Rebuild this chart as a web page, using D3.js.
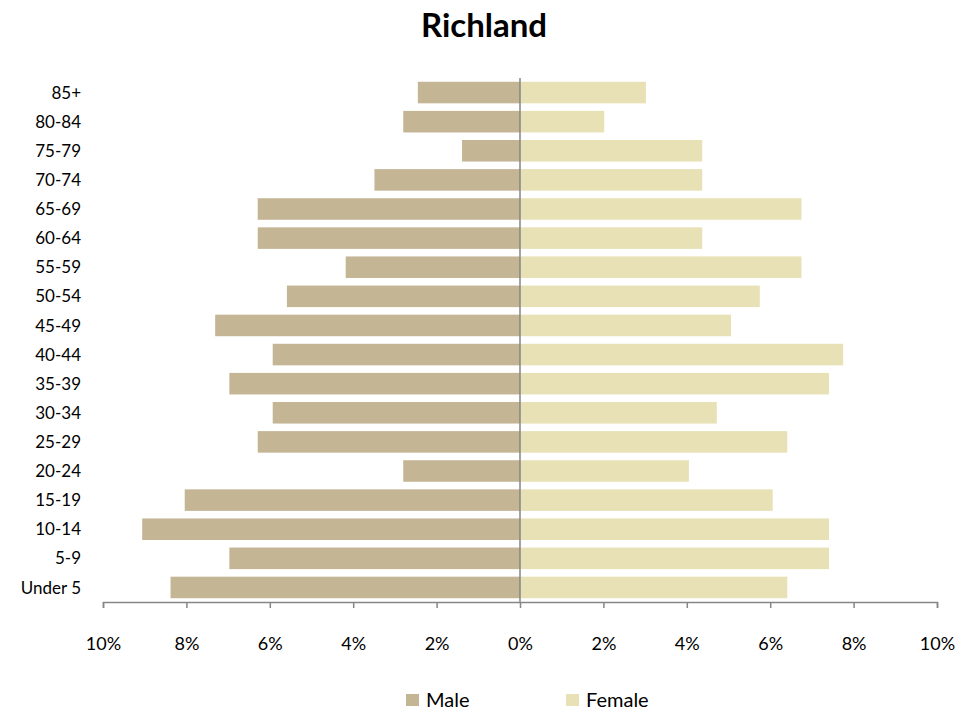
<!DOCTYPE html>
<html>

<head>
    <title>Richland</title>
    <style>
        body {
            margin: 0;
            background: #fff;
        }

        text {
            font-family: Lato, "Open Sans", sans-serif;
            fill: #000;
        }
    </style>
    <script src="https://d3js.org/d3.v7.min.js"></script>
</head>

<body>
    <script>
        // age groups, top to bottom
        let ages = ["85+", "80-84", "75-79", "70-74", "65-69", "60-64", "55-59", "50-54", "45-49",
            "40-44", "35-39", "30-34", "25-29", "20-24", "15-19", "10-14", "5-9", "Under 5"];
        let male = [2.45, 2.8, 1.39, 3.49, 6.29, 6.29, 4.18, 5.59, 7.31,
            5.93, 6.97, 5.93, 6.29, 2.8, 8.04, 9.06, 6.97, 8.38];
        let female = [3.02, 2.02, 4.37, 4.37, 6.75, 4.37, 6.75, 5.75, 5.06,
            7.75, 7.41, 4.72, 6.41, 4.05, 6.06, 7.41, 7.41, 6.41];
        let ticks = [-10, -8, -6, -4, -2, 0, 2, 4, 6, 8, 10];

        let width = 979;
        let height = 713;
        let plotLeft = 103, plotRight = 937, plotTop = 78, plotBottom = 602;

        let svg = d3.select("body")
            .append("svg")
            .attr("width", width)
            .attr("height", height);

        let x = d3.scaleLinear().domain([-10, 10]).range([plotLeft, plotRight]);
        let y = d3.scaleBand().domain(ages).range([plotTop, plotBottom]).paddingInner(0.26).paddingOuter(0.13);

        svg.append("text")
            .attr("x", 484)
            .attr("y", 37)
            .attr("text-anchor", "middle")
            .style("font-size", "33px")
            .style("font-weight", "bold")
            .text("Richland");

        svg.selectAll(".male")
            .data(ages)
            .enter()
            .append("rect")
            .attr("class", "male")
            .attr("x", (d, i) => x(-male[i]))
            .attr("y", d => y(d))
            .attr("width", (d, i) => x(0) - x(-male[i]))
            .attr("height", y.bandwidth())
            .style("fill", "#c4b594");

        svg.selectAll(".female")
            .data(ages)
            .enter()
            .append("rect")
            .attr("class", "female")
            .attr("x", x(0))
            .attr("y", d => y(d))
            .attr("width", (d, i) => x(female[i]) - x(0))
            .attr("height", y.bandwidth())
            .style("fill", "#e8e1b6");

        // category labels
        svg.selectAll(".age")
            .data(ages)
            .enter()
            .append("text")
            .attr("class", "age")
            .attr("x", 81)
            .attr("y", d => y(d) + y.bandwidth() / 2)
            .attr("dy", "0.36em")
            .attr("text-anchor", "end")
            .style("font-size", "17px")
            .text(d => d);

        // zero line
        svg.append("line")
            .attr("x1", x(0)).attr("x2", x(0))
            .attr("y1", plotTop).attr("y2", plotBottom)
            .style("stroke", "#868686")
            .style("stroke-width", 1.5);

        let axis = svg.append("g")
            .attr("transform", `translate(0, ${plotBottom})`)
            .call(d3.axisBottom(x).tickValues(ticks).tickSize(6).tickFormat(d => Math.abs(d) + "%"));
        axis.select(".domain").style("stroke", "#868686").style("stroke-width", 1.5);
        axis.selectAll(".tick line").style("stroke", "#868686").style("stroke-width", 1.5);
        axis.selectAll(".tick text")
            .attr("y", 48)
            .attr("dy", 0)
            .style("font-size", "18px")
            .style("font-family", "Lato, 'Open Sans', sans-serif")
            .style("fill", "#000");

        // legend
        let legend = [{ name: "Male", color: "#c4b594", x: 406 }, { name: "Female", color: "#e8e1b6", x: 566 }];
        let lg = svg.selectAll(".legend")
            .data(legend)
            .enter()
            .append("g")
            .attr("transform", d => `translate(${d.x}, 700)`);
        lg.append("rect")
            .attr("x", 0).attr("y", -6)
            .attr("width", 13).attr("height", 12)
            .style("fill", d => d.color);
        lg.append("text")
            .attr("x", 20)
            .attr("dy", "0.36em")
            .style("font-size", "20px")
            .text(d => d.name);
    </script>
</body>

</html>
